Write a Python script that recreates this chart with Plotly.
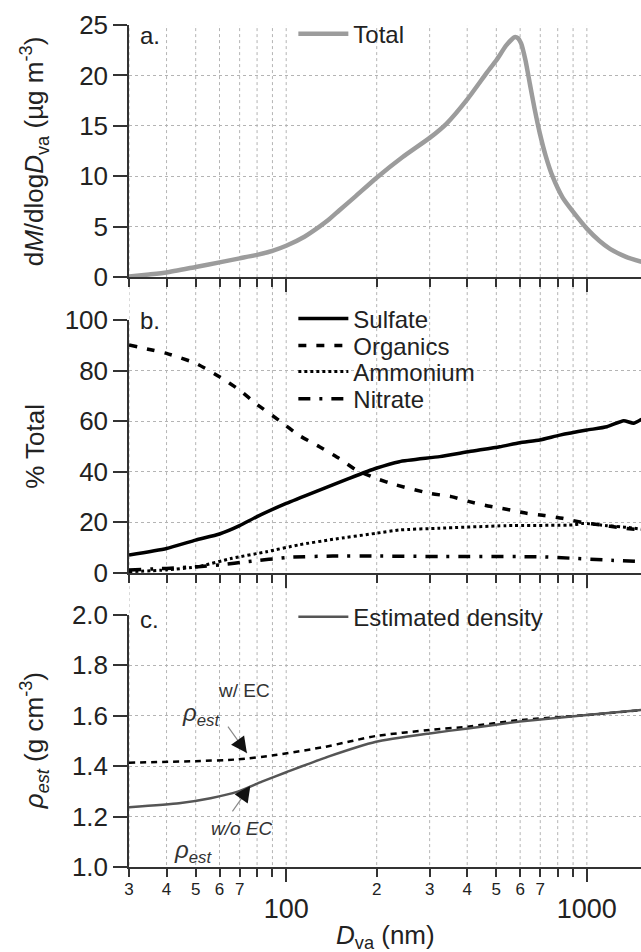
import math
import plotly.graph_objects as go

# ---------------- data ----------------
# Panel a: total mass distribution
total_d = [30, 35, 40, 50, 60, 70, 80, 90, 100, 115, 129, 138, 150, 170, 199, 244, 300, 341, 402,
           463, 500, 540, 575, 590, 604, 625, 646, 670, 697, 730, 771, 830, 898, 1000, 1100, 1194, 1350, 1520]
total_v = [0.05, 0.25, 0.45, 1.0, 1.45, 1.85, 2.2, 2.6, 3.1, 4.0, 5.0, 5.65, 6.6, 8.0, 9.8, 11.9, 13.8, 15.2, 17.7,
           20.2, 21.5, 23.0, 23.8, 23.7, 23.2, 21.5, 19.2, 16.7, 14.3, 12.0, 9.9, 7.9, 6.5, 4.8, 3.6, 2.8, 2.0, 1.5]

# Panel b: % of total by species
sulf_d = [30, 40, 50, 60, 70, 80, 100, 126, 162, 199, 238, 324, 407, 513, 598, 697, 813, 1000, 1166, 1326, 1430, 1520]
sulf_v = [7.1, 9.7, 13.0, 15.4, 18.7, 22.3, 27.5, 32.3, 37.4, 41.4, 44.0, 46.0, 48.0, 49.9, 51.5, 52.6, 54.5, 56.5,
          57.8, 60.2, 59.2, 60.8]

org_d = [30, 40, 50, 60, 70, 79, 96, 110, 129, 150, 171, 199, 232, 300, 354, 407, 469, 540, 630, 725, 830, 973,
         1108, 1288, 1520]
org_v = [90.1, 86.8, 82.9, 77.6, 72.3, 67.1, 59.8, 54.5, 49.9, 45.3, 40.7, 37.4, 34.8, 31.5, 30.2, 28.2, 26.5,
         25.2, 23.6, 22.7, 21.6, 19.9, 19.0, 17.9, 17.0]

amm_d = [30, 40, 51, 66, 86, 110, 143, 199, 238, 324, 540, 900, 973, 1166, 1350, 1520]
amm_v = [0.5, 1.2, 2.5, 5.8, 8.4, 11.1, 13.3, 15.7, 17.0, 17.7, 18.7, 19.0, 19.6, 18.7, 18.1, 17.3]

nit_d = [30, 40, 51, 60, 75, 102, 143, 199, 324, 697, 900, 1166, 1520]
nit_v = [1.2, 1.8, 2.5, 3.2, 4.5, 6.2, 6.7, 6.7, 6.5, 6.4, 5.8, 5.1, 4.5]

# Panel c: estimated density
dens_d = [30, 44, 56, 69, 83, 101, 138, 199, 300, 402, 598, 1000, 1520]
dens_v = [1.237, 1.253, 1.273, 1.299, 1.339, 1.378, 1.438, 1.497, 1.530, 1.550, 1.577, 1.603, 1.623]

densec_d = [30, 50, 69, 92, 135, 199, 300, 402, 598, 1000, 1520]
densec_v = [1.414, 1.420, 1.427, 1.444, 1.477, 1.520, 1.544, 1.557, 1.583, 1.603, 1.623]

# axis ticks
major_x = [100, 1000]
minor_x = [30, 40, 50, 60, 70, 80, 90, 200, 300, 400, 500, 600, 700, 800, 900]
minor_lbl_vals = [30, 40, 50, 60, 70, 200, 300, 400, 500, 600, 700]
minor_lbl_text = ["3", "4", "5", "6", "7", "2", "3", "4", "5", "6", "7"]
x_max = 1514

# ---------------- figure ----------------
FONT = "Liberation Sans, Arial, sans-serif"
INK = "#222222"
AXC = "#333333"
GRID = "#b4b4b4"
LEG_FONT = dict(family=FONT, size=24, color=INK)

fig = go.Figure()

fig.add_trace(go.Scatter(x=total_d, y=total_v, mode="lines", name="Total",
                         line=dict(color="#9c9c9c", width=4.5, shape="spline", smoothing=0.5),
                         xaxis="x", yaxis="y", legend="legend"))

fig.add_trace(go.Scatter(x=sulf_d, y=sulf_v, mode="lines", name="Sulfate",
                         line=dict(color="black", width=3.5, shape="spline", smoothing=0.5),
                         xaxis="x2", yaxis="y2", legend="legend2"))
fig.add_trace(go.Scatter(x=org_d, y=org_v, mode="lines", name="Organics",
                         line=dict(color="black", width=3.5, dash="8px,10px", shape="spline", smoothing=0.5),
                         xaxis="x2", yaxis="y2", legend="legend4"))
fig.add_trace(go.Scatter(x=amm_d, y=amm_v, mode="lines", name="Ammonium",
                         line=dict(color="black", width=3, dash="3px,3px", shape="spline", smoothing=0.5),
                         xaxis="x2", yaxis="y2", legend="legend5"))
fig.add_trace(go.Scatter(x=nit_d, y=nit_v, mode="lines", name="Nitrate",
                         line=dict(color="black", width=3.5, dash="12px,9px,3px,9px", shape="spline", smoothing=0.5),
                         xaxis="x2", yaxis="y2", legend="legend6"))

fig.add_trace(go.Scatter(x=densec_d, y=densec_v, mode="lines", name="w/ EC", showlegend=False,
                         line=dict(color="black", width=2.5, dash="6px,5px", shape="spline", smoothing=0.5),
                         xaxis="x3", yaxis="y3"))
fig.add_trace(go.Scatter(x=dens_d, y=dens_v, mode="lines", name="Estimated density",
                         line=dict(color="#555555", width=2.5, shape="spline", smoothing=0.5),
                         xaxis="x3", yaxis="y3", legend="legend3"))
# invisible carrier so the overlaid minor-label axis is drawn
fig.add_trace(go.Scatter(x=[minor_lbl_vals[0]], y=[1.0], mode="markers", marker=dict(opacity=0),
                         showlegend=False, hoverinfo="skip", xaxis="x4", yaxis="y3"))

xr = [math.log10(30), math.log10(x_max)]
doms = {"a": [0.7007, 1.0], "b": [0.3492, 0.6496], "c": [0.0, 0.2993]}


def xaxis_common(anchor, show_labels=False):
    return dict(type="log", range=xr, anchor=anchor, domain=[0, 1],
                tickmode="array", tickvals=major_x, ticktext=["100", "1000"],
                ticks="outside", ticklen=13, tickwidth=1.5, tickcolor=AXC,
                showticklabels=show_labels, showgrid=False, zeroline=False,
                showline=True, linecolor=AXC, linewidth=1.5,
                tickfont=dict(family=FONT, size=27, color=INK),
                minor=dict(tickmode="array", tickvals=minor_x, ticks="outside", ticklen=8,
                           tickwidth=1.5, tickcolor=AXC, showgrid=False))


def yaxis_common(anchor, dom, rng, dtick, fmt=None):
    d = dict(anchor=anchor, domain=dom, range=rng, dtick=dtick, tick0=rng[0],
             ticks="outside", ticklen=14, tickwidth=1.5, tickcolor=AXC,
             showline=True, linecolor=AXC, linewidth=1.5, zeroline=False,
             showgrid=True, gridcolor=GRID, griddash="dot", gridwidth=1,
             tickfont=dict(family=FONT, size=26, color=INK))
    if fmt:
        d["tickformat"] = fmt
    return d


def leg(yy):
    return dict(x=0.321, y=yy, xanchor="left", yanchor="top", bgcolor="rgba(0,0,0,0)",
                itemwidth=50, font=LEG_FONT)


fig.update_layout(
    width=641, height=952,
    margin=dict(l=129, r=0, t=25, b=85),
    paper_bgcolor="white", plot_bgcolor="rgba(0,0,0,0)",
    font=dict(family=FONT, color=INK),
    xaxis=xaxis_common("y"),
    xaxis2=xaxis_common("y2"),
    xaxis3=dict(xaxis_common("y3", show_labels=True), ticklabelstandoff=4),
    xaxis4=dict(type="log", range=xr, overlaying="x3", anchor="y3", side="bottom",
                tickmode="array", tickvals=minor_lbl_vals, ticktext=minor_lbl_text,
                ticks="", showline=False, showgrid=False, zeroline=False,
                ticklabelstandoff=10,
                tickfont=dict(family=FONT, size=17, color=INK)),
    yaxis=yaxis_common("x", doms["a"], [0, 25], 5),
    yaxis2=yaxis_common("x2", doms["b"], [0, 100], 20),
    yaxis3=yaxis_common("x3", doms["c"], [1.0, 2.0], 0.2, ".1f"),
    legend=leg(1.016),
    legend2=leg(0.6776),
    legend4=leg(0.6455),
    legend5=leg(0.6146),
    legend6=leg(0.5825),
    legend3=leg(0.3236),
)

# vertical grid lines spanning all three panels (drawn at tick values)
for v in minor_x + major_x:
    fig.add_shape(type="line", xref="x", yref="paper", x0=v, x1=v, y0=-0.012, y1=1.0,
                  line=dict(color=GRID, width=1, dash="dot"), layer="below")

# panel letters
for lab, yy in (("a.", 0.988), ("b.", 0.649), ("c.", 0.294)):
    fig.add_annotation(text=lab, xref="paper", yref="paper", x=0.041, y=yy, showarrow=False,
                       xanchor="center", yanchor="middle", font=dict(family=FONT, size=24, color=INK))

# axis titles
ytitles = [
    ("d<i>M</i>/dlog<i>D</i><sub>va</sub> (µg m<sup>-3</sup>)", sum(doms["a"]) / 2),
    ("% Total", sum(doms["b"]) / 2),
    ("<i>ρ</i><sub><i>est</i></sub> (g cm<sup>-3</sup>)", sum(doms["c"]) / 2),
]
for txt, yy in ytitles:
    fig.add_annotation(text=txt, xref="paper", yref="paper", x=-0.185, y=yy, textangle=-90,
                       showarrow=False, xanchor="center", yanchor="middle",
                       font=dict(family=FONT, size=26, color=INK))
fig.add_annotation(text="<i>D</i><sub>va</sub> (nm)", xref="paper", yref="paper", x=0.5, y=-0.082,
                   showarrow=False, xanchor="center", yanchor="middle",
                   font=dict(family=FONT, size=26, color=INK))

# density annotations (log10 x for annotations on log axes)
ANN = "#333333"
fig.add_annotation(text="w/ EC", xref="x3", yref="y3", x=1.86, y=1.70, showarrow=False,
                   font=dict(family=FONT, size=19, color=ANN))
fig.add_annotation(text="<i>ρ</i><sub><i>est</i></sub>", xref="x3", yref="y3", x=1.715, y=1.605,
                   showarrow=False, font=dict(family=FONT, size=24, color=ANN))
fig.add_annotation(text="<i>w/o EC</i>", xref="x3", yref="y3", x=1.854, y=1.154, showarrow=False,
                   font=dict(family=FONT, size=19, color=ANN))
fig.add_annotation(text="<i>ρ</i><sub><i>est</i></sub>", xref="x3", yref="y3", x=1.69, y=1.06,
                   showarrow=False, font=dict(family=FONT, size=24, color=ANN))
# arrows: grey shaft + black head
for tip_d, tip_y, ax, ay in ((74, 1.452, -20, -28), (76, 1.322, -19, 27)):
    fig.add_annotation(text="", xref="x3", yref="y3", x=math.log10(tip_d), y=tip_y, ax=ax, ay=ay,
                       showarrow=True, arrowhead=0, arrowwidth=1.2, arrowcolor="#8a8a8a")
    fig.add_annotation(text="", xref="x3", yref="y3", x=math.log10(tip_d), y=tip_y,
                       ax=ax * 0.45, ay=ay * 0.45,
                       showarrow=True, arrowhead=2, arrowsize=1.6, arrowwidth=2, arrowcolor="#111111")

fig.write_html("out.html")
